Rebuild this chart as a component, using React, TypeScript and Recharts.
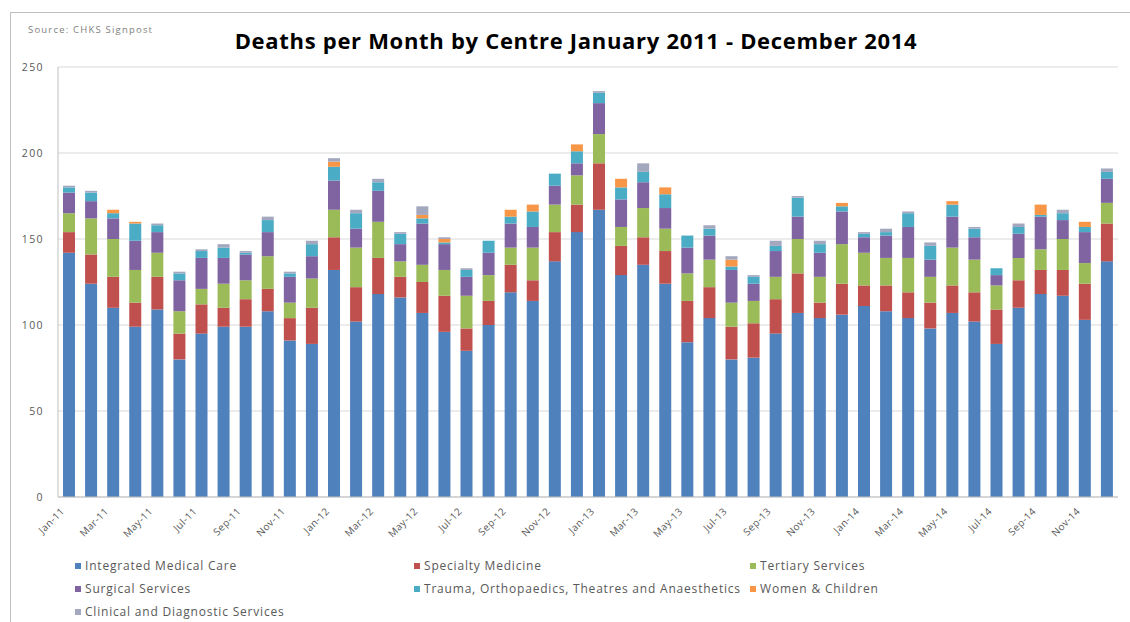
import React from "react";
import { BarChart, Bar, XAxis, YAxis, CartesianGrid } from "recharts";

const months = [
  "Jan-11","Feb-11","Mar-11","Apr-11","May-11","Jun-11","Jul-11","Aug-11","Sep-11","Oct-11","Nov-11","Dec-11",
  "Jan-12","Feb-12","Mar-12","Apr-12","May-12","Jun-12","Jul-12","Aug-12","Sep-12","Oct-12","Nov-12","Dec-12",
  "Jan-13","Feb-13","Mar-13","Apr-13","May-13","Jun-13","Jul-13","Aug-13","Sep-13","Oct-13","Nov-13","Dec-13",
  "Jan-14","Feb-14","Mar-14","Apr-14","May-14","Jun-14","Jul-14","Aug-14","Sep-14","Oct-14","Nov-14","Dec-14",
];

const integratedMedicalCare = [
  142,124,110,99,109,80,95,99,99,108,91,89,
  132,102,118,116,107,96,85,100,119,114,137,154,
  167,129,135,124,90,104,80,81,95,107,104,106,
  111,108,104,98,107,102,89,110,118,117,103,137,
];
const specialtyMedicine = [
  12,17,18,14,19,15,17,11,16,13,13,21,
  19,20,21,12,18,21,13,14,16,12,17,16,
  27,17,16,19,24,18,19,20,20,23,9,18,
  12,15,15,15,16,17,20,16,14,15,21,22,
];
const tertiaryServices = [
  11,21,22,19,14,13,9,14,11,19,9,17,
  16,23,21,9,10,15,19,15,10,19,16,17,
  17,11,17,13,16,16,14,13,13,20,15,23,
  19,16,20,15,22,19,14,13,12,18,12,12,
];
const surgicalServices = [
  12,10,12,17,12,18,18,15,15,14,15,13,
  17,11,18,10,24,15,11,13,14,12,11,7,
  18,16,15,12,15,14,19,10,15,13,14,19,
  9,13,18,10,18,13,6,14,19,11,18,14,
];
const trauma = [
  3,5,3,10,4,4,4,6,1,7,2,7,
  8,9,5,6,3,1,4,7,4,9,7,7,
  6,7,6,8,7,4,2,4,3,11,5,3,
  2,2,8,8,7,5,4,4,1,4,3,4,
];
const womenChildren = [
  0,0,2,1,0,0,0,0,0,0,0,0,
  3,0,0,0,2,2,0,0,4,4,0,4,
  0,5,0,4,0,0,4,0,0,0,0,2,
  0,0,0,0,2,0,0,0,6,0,3,0,
];
const clinicalDiagnostic = [
  1,1,0,0,1,1,1,2,1,2,1,2,
  2,2,2,1,5,1,1,0,0,0,0,0,
  1,0,5,0,0,2,2,1,3,1,2,0,
  1,2,1,2,0,1,0,2,0,2,0,2,
];

const yTicks = [0, 50, 100, 150, 200, 250];

const series = [
  { key: "imc", name: "Integrated Medical Care", color: "#4F81BD", values: integratedMedicalCare },
  { key: "spec", name: "Specialty Medicine", color: "#C0504D", values: specialtyMedicine },
  { key: "tert", name: "Tertiary Services", color: "#9BBB59", values: tertiaryServices },
  { key: "surg", name: "Surgical Services", color: "#8064A2", values: surgicalServices },
  { key: "trauma", name: "Trauma, Orthopaedics, Theatres and Anaesthetics", color: "#4BACC6", values: trauma },
  { key: "women", name: "Women & Children", color: "#F79646", values: womenChildren },
  { key: "clin", name: "Clinical and Diagnostic Services", color: "#A3A8BF", values: clinicalDiagnostic },
];

const data = months.map((m, i) => {
  const row: Record<string, string | number> = { month: m };
  series.forEach((s) => {
    row[s.key] = s.values[i];
  });
  return row;
});

const FONT = "'Open Sans', 'Liberation Sans', Arial, sans-serif";

const XTick = (props: any) => {
  const { x, y, payload } = props;
  return (
    <text
      x={x - 4}
      y={y + 7}
      textAnchor="end"
      fontSize={10}
      fill="#595959"
      fontFamily={FONT}
      letterSpacing={0.4}
      transform={`rotate(-45, ${x - 4}, ${y + 7})`}
    >
      {payload.value}
    </text>
  );
};

const legendPos = [
  { left: 75, top: 557 },
  { left: 414, top: 557 },
  { left: 750, top: 557 },
  { left: 75, top: 580 },
  { left: 414, top: 580 },
  { left: 750, top: 580 },
  { left: 75, top: 603 },
];

export default function App() {
  return (
    <div
      style={{
        position: "absolute",
        left: 0,
        top: 0,
        width: 1130,
        height: 622,
        background: "#fff",
        overflow: "hidden",
        fontFamily: FONT,
      }}
    >
      <div
        style={{
          position: "absolute",
          left: 10,
          top: 12,
          width: 1130,
          height: 640,
          border: "1px solid #BFBFBF",
          boxSizing: "border-box",
        }}
      />
      <div
        style={{
          position: "absolute",
          left: 28,
          top: 23,
          fontSize: 9.5,
          color: "#7F7F7F",
          letterSpacing: 1.2,
        }}
      >
        Source: CHKS Signpost
      </div>
      <div
        style={{
          position: "absolute",
          left: 0,
          width: 1152,
          top: 25,
          textAlign: "center",
          fontSize: 22,
          fontWeight: 700,
          letterSpacing: 0.7,
          color: "#000",
        }}
      >
        Deaths per Month by Centre January 2011 - December 2014
      </div>
      <div style={{ position: "absolute", left: 0, top: 0 }}>
        <BarChart
          width={1130}
          height={622}
          data={data}
          margin={{ top: 67, right: 12, left: 0, bottom: 80 }}
          barSize={12}
        >
          <CartesianGrid vertical={false} stroke="#D9D9D9" />
          <XAxis
            dataKey="month"
            interval={1}
            tick={<XTick />}
            tickLine={false}
            axisLine={{ stroke: "#BFBFBF" }}
            height={45}
          />
          <YAxis
            domain={[0, 250]}
            ticks={yTicks}
            width={58}
            tickLine={false}
            tickSize={0}
            tickMargin={14}
            axisLine={{ stroke: "#BFBFBF" }}
            tick={{ fontSize: 10.5, fill: "#595959", fontFamily: FONT, letterSpacing: 1.4 }}
          />
          {series.map((s) => (
            <Bar
              key={s.key}
              dataKey={s.key}
              name={s.name}
              stackId="a"
              fill={s.color}
              isAnimationActive={false}
            />
          ))}
        </BarChart>
      </div>
      {series.map((s, i) => (
        <div
          key={s.key}
          style={{
            position: "absolute",
            left: legendPos[i].left,
            top: legendPos[i].top,
            display: "flex",
            alignItems: "center",
            fontSize: 12,
            letterSpacing: 0.8,
            color: "#595959",
            whiteSpace: "nowrap",
          }}
        >
          <span
            style={{
              display: "inline-block",
              width: 6,
              height: 6,
              background: s.color,
              marginRight: 4,
            }}
          />
          {s.name}
        </div>
      ))}
    </div>
  );
}
